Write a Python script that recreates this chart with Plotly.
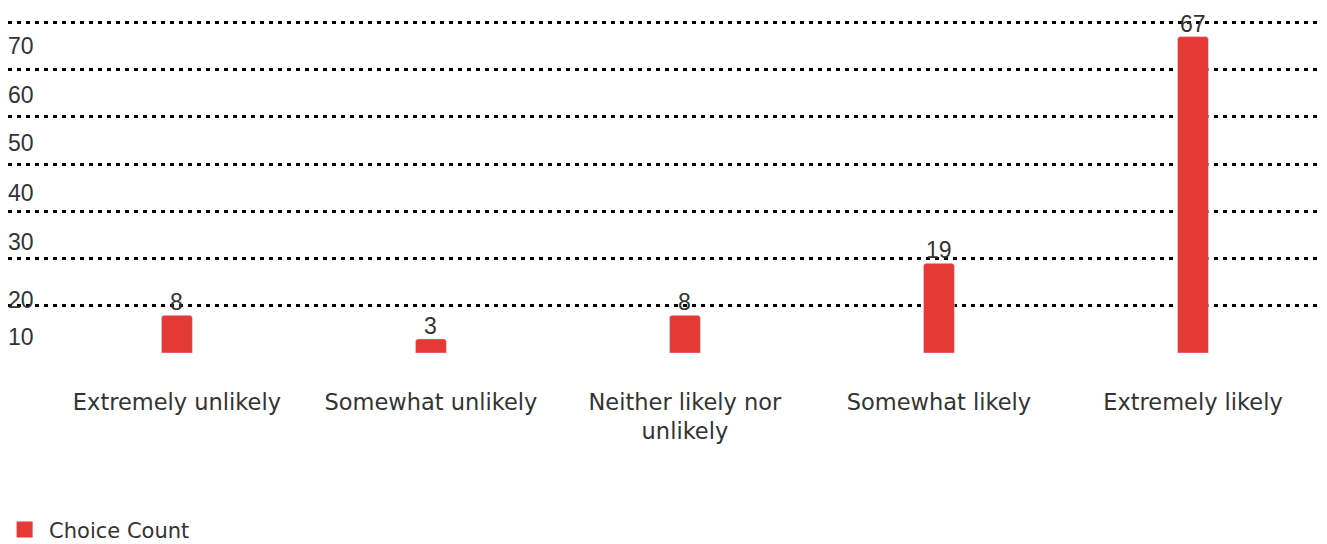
import plotly.graph_objects as go

categories = ["Extremely unlikely", "Somewhat unlikely", "Neither likely nor<br>unlikely",
              "Somewhat likely", "Extremely likely"]
counts = [8, 3, 8, 19, 67]

# y-axis labels and the positions they sit at
tick_positions = [3.4, 11.2, 23.5, 34.0, 44.4, 54.6, 65.1]
tick_labels = ["10", "20", "30", "40", "50", "60", "70"]
grid_values = [0, 10, 20, 30, 40, 50, 60, 70]

bar_color = "#E53935"
text_color = "#333333"
label_font = "DejaVu Sans, Noto Sans"
number_font = "Liberation Sans, Arial"

fig = go.Figure()
fig.add_trace(
    go.Bar(
        x=list(range(len(categories))),
        y=counts,
        name="Choice Count",
        marker=dict(color=bar_color),
        width=0.122,
        showlegend=False,
    )
)
# legend entry with a larger square swatch
fig.add_trace(
    go.Scatter(
        x=[None],
        y=[None],
        mode="markers",
        name="Choice Count",
        marker=dict(symbol="square", size=17, color=bar_color),
        showlegend=True,
    )
)

# value labels sitting on top of each bar
for i, c in enumerate(counts):
    fig.add_annotation(
        x=i, y=c, text=str(c), showarrow=False,
        yanchor="bottom", yshift=-2,
        font=dict(family=number_font, size=23, color=text_color),
    )

fig.update_layout(
    width=1327,
    height=544,
    margin=dict(l=8, r=5, t=21, b=190),
    paper_bgcolor="white",
    plot_bgcolor="white",
    barcornerradius=3,
    font=dict(family=label_font, color=text_color),
    legend=dict(
        orientation="h",
        x=-0.006,
        xanchor="left",
        yref="container",
        y=0.026,
        yanchor="middle",
        font=dict(family=label_font, size=21, color=text_color),
        itemsizing="trace",
        itemwidth=39,
    ),
)

fig.update_xaxes(
    tickmode="array",
    tickvals=list(range(len(categories))),
    ticktext=categories,
    tickfont=dict(family=label_font, size=22.5, color=text_color),
    range=[-0.665, 4.508],
    showgrid=False,
    showline=False,
    zeroline=False,
    ticks="",
    ticklabelstandoff=32,
)

fig.update_yaxes(
    range=[-0.2, 70.3],
    tickmode="array",
    tickvals=tick_positions,
    ticktext=tick_labels,
    ticklabelposition="inside",
    ticklabelstandoff=-3,
    tickfont=dict(family=number_font, size=23, color=text_color),
    showgrid=False,
    zeroline=False,
    showline=False,
    ticks="",
    minor=dict(
        tickmode="array",
        tickvals=grid_values,
        showgrid=True,
        gridcolor="black",
        gridwidth=3,
        griddash="4px,5px",
    ),
)

fig.write_html("out.html")
